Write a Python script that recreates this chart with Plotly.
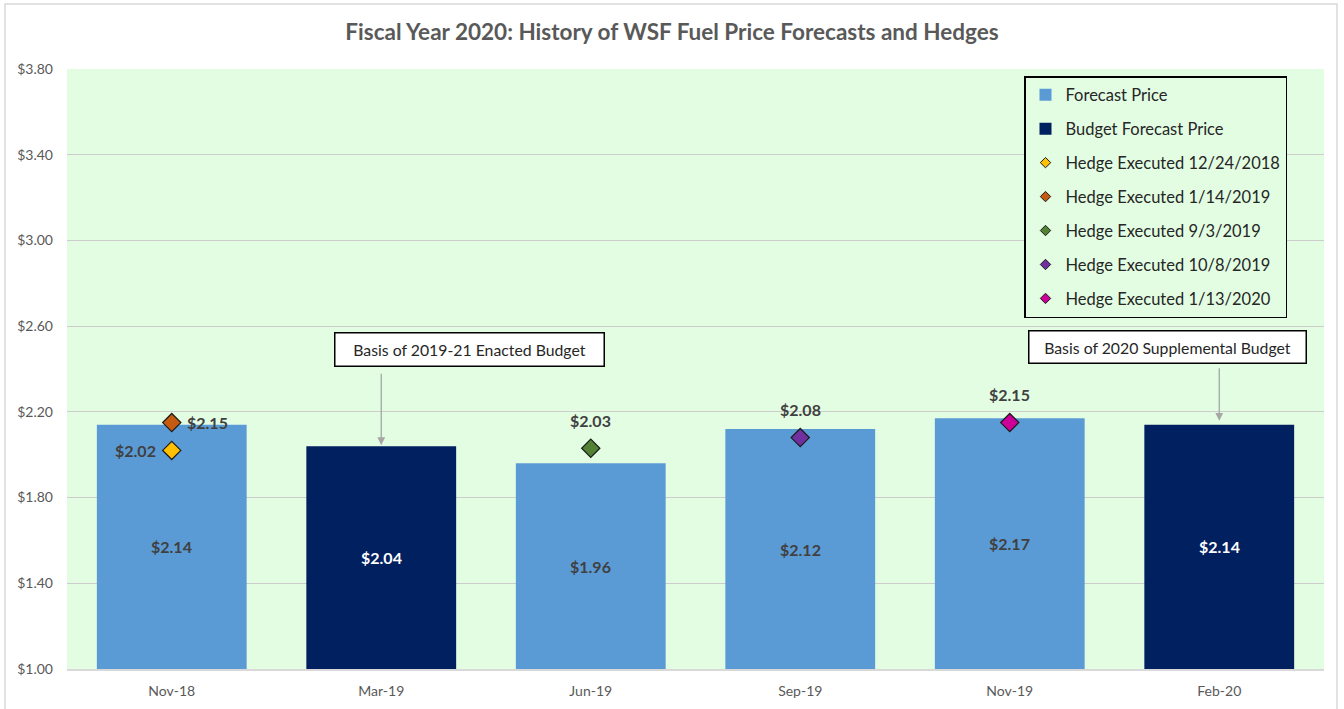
import plotly.graph_objects as go

categories = ["Nov-18", "Mar-19", "Jun-19", "Sep-19", "Nov-19", "Feb-20"]

forecast_x = ["Nov-18", "Jun-19", "Sep-19", "Nov-19"]
forecast_y = [2.14, 1.96, 2.12, 2.17]

budget_x = ["Mar-19", "Feb-20"]
budget_y = [2.04, 2.14]

hedge_names = ["Hedge Executed 12/24/2018", "Hedge Executed 1/14/2019",
               "Hedge Executed 9/3/2019", "Hedge Executed 10/8/2019",
               "Hedge Executed 1/13/2020"]
hedge_x = ["Nov-18", "Nov-18", "Jun-19", "Sep-19", "Nov-19"]
hedge_y = [2.02, 2.15, 2.03, 2.08, 2.15]
hedge_colors = ["#FFC000", "#C55A11", "#548235", "#7030A0", "#CC0099"]
hedge_label_side = ["left", "right", "top", "top", "top"]

Y_MIN, Y_MAX = 1.0, 3.8

FONT = "Lato"
TXT = "#595959"
LBL = "#404040"
BG = "#E3FDE3"

fig = go.Figure()

fig.add_trace(go.Bar(
    x=forecast_x, y=forecast_y, name="Forecast Price",
    marker=dict(color="#5B9BD5", line=dict(width=0)),
    width=0.715, legendgroup="g1",
))
fig.add_trace(go.Bar(
    x=budget_x, y=budget_y, name="Budget Forecast Price",
    marker=dict(color="#002060", line=dict(width=0)),
    width=0.715, legendgroup="g2",
))

# bar value labels at the middle of the visible part of each bar
for xs, ys, col in [(forecast_x, forecast_y, LBL), (budget_x, budget_y, "white")]:
    for x, y in zip(xs, ys):
        fig.add_annotation(x=x, y=(Y_MIN + y) / 2, xref="x", yref="y",
                           text=f"<b>${y:.2f}</b>", showarrow=False,
                           font=dict(family=FONT, size=16, color=col))

for i, (n, x, y, c, side) in enumerate(zip(hedge_names, hedge_x, hedge_y, hedge_colors, hedge_label_side)):
    fig.add_trace(go.Scatter(
        x=[x], y=[y], name=n, mode="markers",
        marker=dict(symbol="diamond", size=14, color=c, line=dict(color="#1a1a1a", width=1.2)),
        showlegend=False, legendgroup=f"h{i}",
    ))
    # legend-only entry with small symbol
    fig.add_trace(go.Scatter(
        x=[None], y=[None], name=n, mode="markers",
        marker=dict(symbol="diamond", size=8, color=c, line=dict(color="#1a1a1a", width=1)),
        showlegend=True, legendgroup=f"h{i}",
    ))
    xs_, ys_ = {"left": (-36, 0), "right": (36, 0), "top": (0, 28)}[side]
    fig.add_annotation(x=x, y=y, xref="x", yref="y", text=f"<b>${y:.2f}</b>",
                       showarrow=False, xshift=xs_, yshift=ys_,
                       font=dict(family=FONT, size=16, color=LBL))

# annotation boxes
fig.add_annotation(
    xref="paper", yref="y", x=(469.5 - 67) / 1257, y=2.493,
    text="Basis of 2019-21 Enacted Budget", showarrow=False,
    font=dict(family=FONT, size=15.8, color="#262626"),
    bgcolor="white", bordercolor="black", borderwidth=1.5,
    width=266, height=30, borderpad=1, xanchor="center", yanchor="middle",
)
fig.add_annotation(
    xref="paper", yref="y", x=(1167.5 - 67) / 1257, y=2.505,
    text="Basis of 2020 Supplemental Budget", showarrow=False,
    font=dict(family=FONT, size=15.8, color="#262626"),
    bgcolor="white", bordercolor="black", borderwidth=1.5,
    width=274, height=29, borderpad=1, xanchor="center", yanchor="middle",
)
# arrows
fig.add_annotation(
    x="Mar-19", y=2.04, xref="x", yref="y", text="",
    showarrow=True, ax=0, ay=-74, arrowhead=2, arrowsize=1.2,
    arrowwidth=1.3, arrowcolor="#A6A6A6", standoff=1,
)
fig.add_annotation(
    x="Feb-20", y=2.14, xref="x", yref="y", text="",
    showarrow=True, ax=0, ay=-58, arrowhead=2, arrowsize=1.2,
    arrowwidth=1.3, arrowcolor="#A6A6A6", standoff=4,
)

# outer chart border
fig.add_shape(type="rect", xref="paper", yref="paper",
              x0=(5 - 67) / 1257, x1=(1337 - 67) / 1257,
              y0=-0.09, y1=(669 - 4) / 600,
              line=dict(color="#D9D9D9", width=1.5), fillcolor="rgba(0,0,0,0)", layer="below")

fig.update_layout(
    width=1344, height=709,
    margin=dict(l=67, r=20, t=69, b=40),
    paper_bgcolor="white", plot_bgcolor=BG,
    barmode="overlay",
    font=dict(family=FONT, color=TXT),
    title=dict(text="<b>Fiscal Year 2020: History of WSF Fuel Price Forecasts and Hedges</b>",
               x=0.5, xanchor="center", y=1 - 32 / 709, yanchor="middle", yref="container",
               font=dict(family=FONT, size=22.5, color=TXT)),
    legend=dict(
        x=(1024 - 67) / 1257, y=(669 - 76) / 600, xanchor="left", yanchor="top",
        bgcolor=BG, bordercolor="black", borderwidth=1.5,
        font=dict(family=FONT, size=16.5, color="#262626"),
        traceorder="grouped", tracegroupgap=9.5, itemwidth=30,
    ),
    showlegend=True,
)
fig.update_xaxes(
    categoryorder="array", categoryarray=categories, type="category",
    showline=True, linecolor="#D9D9D9", linewidth=1.5,
    tickfont=dict(family=FONT, size=14, color=TXT), ticks="", showgrid=False,
    ticklabelstandoff=8, automargin=False,
)
fig.update_yaxes(
    range=[Y_MIN, Y_MAX], dtick=0.4, tick0=1, tickformat="$.2f",
    showgrid=True, gridcolor="#CCCCCC", gridwidth=1, zeroline=False,
    tickfont=dict(family=FONT, size=14, color=TXT), ticklabelstandoff=13,
    automargin=False,
)

fig.write_html("out.html")
